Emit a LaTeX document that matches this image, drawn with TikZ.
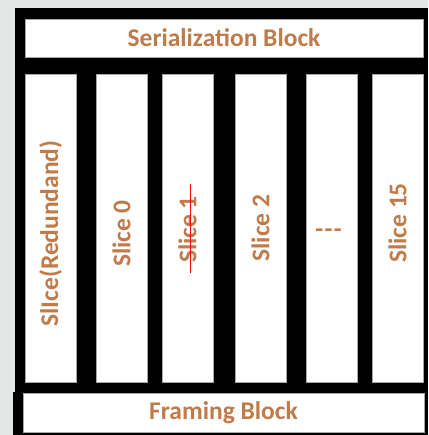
\documentclass[tikz,border=0pt]{standalone}
\usepackage{fontspec}
\setmainfont{Carlito}
\usetikzlibrary{positioning}
\definecolor{bggray}{HTML}{E3E7E5}
\definecolor{labelbrown}{HTML}{C07B4A}

\begin{document}
\begin{tikzpicture}[x=1pt, y=-1pt,
  box/.style={draw=gray!70, fill=white, line width=0.6pt, outer sep=0pt, inner sep=0pt},
  txt/.style={text=labelbrown, font=\fontsize{25.5}{28}\selectfont\bfseries},
  slicebox/.style={box, minimum width=51pt, minimum height=308pt},
  slicelabel/.style={txt, rotate=90, inner sep=0pt}]
\useasboundingbox (0,0) rectangle (428,435);
\fill[bggray] (0,0) rectangle (428,435);
% frame
\fill[black] (15,8) rectangle (428,392);
\fill[black] (13,392) rectangle (428,435);
\node[box, txt, anchor=north west, minimum width=398pt, minimum height=38pt] (ser) at (25,19) {Serialization Block};
\node[box, txt, anchor=north west, minimum width=401pt, minimum height=39pt] (fram) at (23,393) {Framing Block};
% slices
\node[slicebox, anchor=north west] (sR) at (25,74) {};
\node[slicebox, anchor=north west] (s0) at (96,74) {};
\node[slicebox, anchor=north west] (s1) at (162,74) {};
\node[slicebox, anchor=north west] (s2) at (235,74) {};
\node[slicebox, anchor=north west] (sdots) at (306,74) {};
\node[slicebox, anchor=north west] (s15) at (372,74) {};
\node[slicelabel] (tR) at ([yshift=-5.5pt]sR.center) {SlIce(Redundand)};
\node[slicelabel] (t0) at ([yshift=-5.5pt]s0.center) {Slice 0};
\node[slicelabel] (t1) at ([yshift=-1.5pt]s1.center) {Slice 1};
\node[slicelabel] (t2) at (s2.center) {Slice 2};
\node[txt] (tdots) at ([xshift=-3pt, yshift=-5pt]sdots.center) {-\kern1.5pt-\kern1.5pt-};
\node[slicelabel] (t15) at ([yshift=5pt]s15.center) {Slice 15};
% struck out
\draw[red, line width=1pt] ([xshift=2.5pt, yshift=44pt]s1.center) -- ([xshift=2.5pt, yshift=-45pt]s1.center);
\end{tikzpicture}
\end{document}
